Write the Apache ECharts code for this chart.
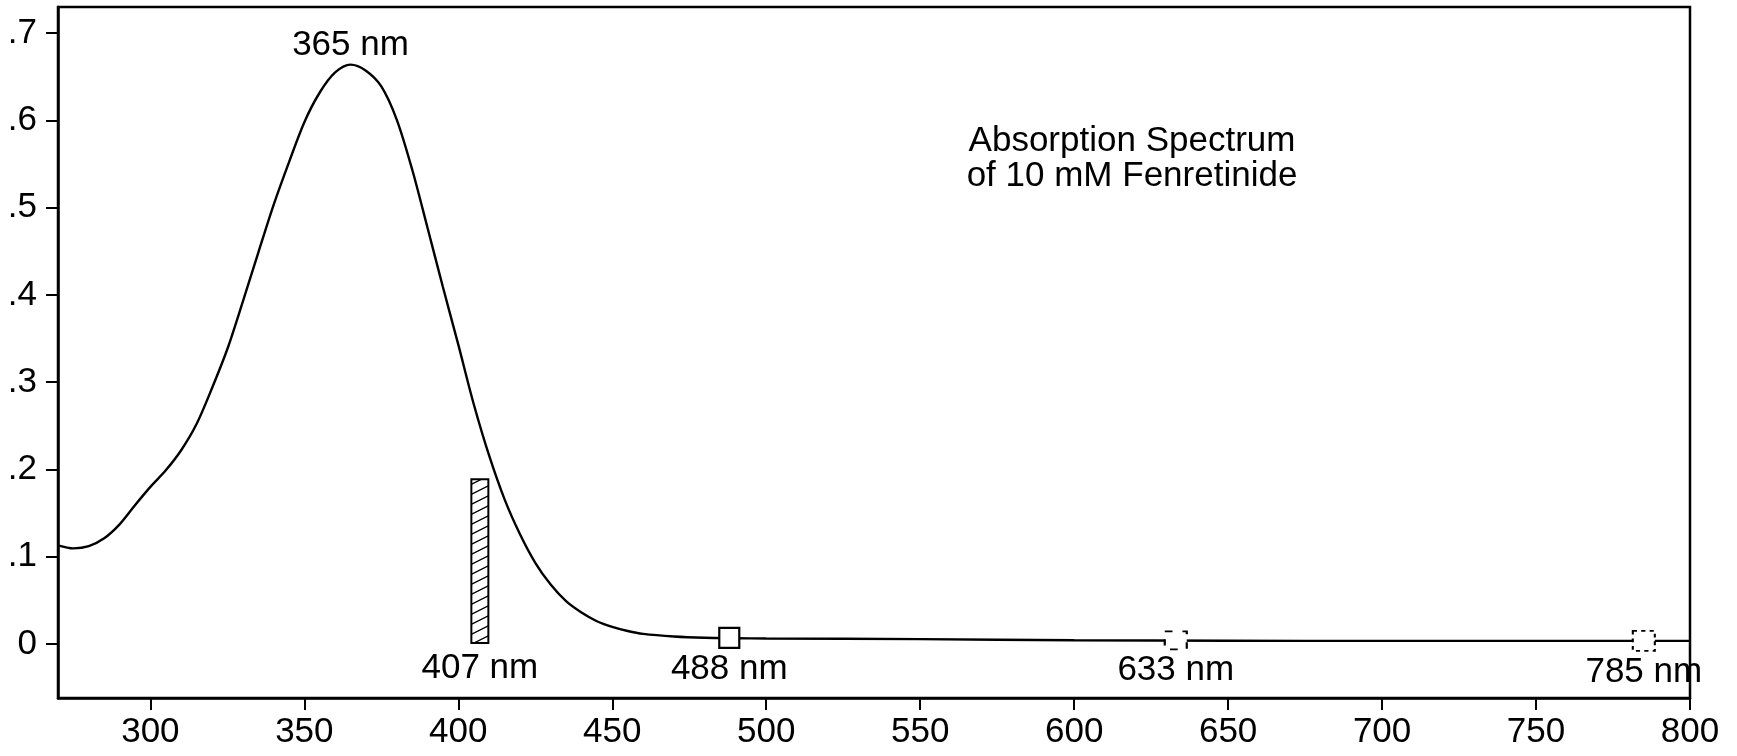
<!DOCTYPE html>
<html>
<head>
<meta charset="utf-8">
<title>Absorption Spectrum of 10 mM Fenretinide</title>
<script src="https://cdn.jsdelivr.net/npm/echarts@6/dist/echarts.min.js"></script>
<style>
  html, body { margin: 0; padding: 0; background: #fff; }
  #chart { width: 1737px; height: 756px; }
</style>
</head>
<body>
<div id="chart"></div>
<script>
// Absorbance spectrum (wavelength in nm, absorbance in AU)
const wavelengths = [270, 275, 280, 285, 290, 295, 300, 305, 310, 315, 320, 325, 330, 335, 340, 345, 350, 355, 360, 365, 370, 375, 380, 385, 390, 395, 400, 405, 410, 415, 420, 425, 430, 435, 440, 445, 450, 455, 460, 470, 480, 490, 500, 550, 600, 650, 700, 750, 800];
const absorbance = [0.113, 0.1095, 0.112, 0.121, 0.137, 0.159, 0.180, 0.199, 0.222, 0.252, 0.293, 0.338, 0.392, 0.448, 0.503, 0.552, 0.598, 0.632, 0.655, 0.664, 0.657, 0.639, 0.601, 0.544, 0.477, 0.409, 0.343, 0.275, 0.216, 0.166, 0.126, 0.093, 0.068, 0.049, 0.036, 0.026, 0.0195, 0.0148, 0.0115, 0.0085, 0.007, 0.0065, 0.0062, 0.0055, 0.0042, 0.0036, 0.0035, 0.0035, 0.0035];

// Absorption maximum
const peakWavelength = 365;
const peakAbsorbance = 0.664;

// Laser excitation lines
const violetLine = 407;        // drawn as hatched bar
const violetBarHeight = 0.19;
const laserLines = [488, 633, 785];
const laserAbsorbance = [0.007, 0.004, 0.0035];

// Axis ticks
const xTicks = [300, 350, 400, 450, 500, 550, 600, 650, 700, 750, 800];
const yTicks = [0, 0.1, 0.2, 0.3, 0.4, 0.5, 0.6, 0.7];

const titleLines = ['Absorption Spectrum', 'of 10 mM Fenretinide'];

const FONT = '"Liberation Sans", Arial, Helvetica, sans-serif';
const FS = 35;

// Diagonal hatch used to fill the 407 nm bar
function hatchPattern() {
  const c = document.createElement('canvas');
  c.width = 20; c.height = 10;
  const g = c.getContext('2d');
  g.fillStyle = '#fff';
  g.fillRect(0, 0, 20, 10);
  g.strokeStyle = '#000';
  g.lineWidth = 1.3;
  g.beginPath();
  g.moveTo(-20, 20); g.lineTo(20, 0);
  g.moveTo(0, 10); g.lineTo(20, 0);
  g.moveTo(0, 20); g.lineTo(40, 0);
  g.moveTo(-20, 10); g.lineTo(20, -10);
  g.stroke();
  return c;
}

const chart = echarts.init(document.getElementById('chart'), null, { renderer: 'canvas' });

const labelStyle = { color: '#000', opacity: 1, fontFamily: FONT, fontSize: FS };

const markerStyles = [
  { color: '#fff', opacity: 1, borderColor: '#000', borderWidth: 2.2, borderType: 'solid' },
  { color: '#fff', opacity: 1, borderColor: '#000', borderWidth: 2, borderType: [7, 9] },
  { color: '#fff', opacity: 1, borderColor: '#000', borderWidth: 2, borderType: [4, 4] }
];
const markerSizes = [[20, 20], [22, 18], [22, 20]];

chart.setOption({
  animation: false,
  backgroundColor: '#fff',
  grid: {
    left: 58, right: 47, top: 7, bottom: 58,
    show: true, borderColor: '#000', borderWidth: 2.5, backgroundColor: 'transparent'
  },
  xAxis: {
    type: 'value',
    min: 270, max: 800,
    axisLine: { show: true, onZero: false, lineStyle: { color: '#000', width: 2.5 } },
    axisTick: { show: true, customValues: xTicks, length: 12, inside: false, lineStyle: { color: '#000', width: 2 } },
    axisLabel: { customValues: xTicks, margin: 17, ...labelStyle },
    splitLine: { show: false }
  },
  yAxis: {
    type: 'value',
    min: -0.062, max: 0.73,
    axisLine: { show: true, onZero: false, lineStyle: { color: '#000', width: 2.5 } },
    axisTick: { show: true, customValues: yTicks, length: 12, lineStyle: { color: '#000', width: 2 } },
    axisLabel: {
      customValues: yTicks, margin: 21, ...labelStyle,
      formatter: v => (Math.abs(v) < 1e-9 ? '0' : v.toFixed(1).replace(/^0/, ''))
    },
    splitLine: { show: false }
  },
  series: [
    {
      type: 'line',
      data: wavelengths.map((w, i) => [w, absorbance[i]]),
      showSymbol: false,
      smooth: 0.3,
      lineStyle: { color: '#000', width: 2.4 },
      z: 2
    },
    {
      type: 'scatter',
      data: [[peakWavelength, peakAbsorbance]],
      symbolSize: 1,
      itemStyle: { color: 'rgba(0,0,0,0)', opacity: 1 },
      label: {
        show: true, position: 'top', distance: 1, ...labelStyle,
        formatter: p => p.value[0] + ' nm'
      },
      z: 3
    },
    {
      type: 'bar',
      data: [[violetLine, violetBarHeight]],
      barWidth: 19,
      itemStyle: { color: { image: hatchPattern(), repeat: 'repeat' }, borderColor: '#000', borderWidth: 2 },
      label: {
        show: true, position: 'bottom', distance: 7, ...labelStyle,
        formatter: p => p.value[0] + ' nm'
      },
      z: 4
    },
    {
      type: 'scatter',
      symbol: 'rect',
      data: laserLines.map((w, i) => ({
        value: [w, laserAbsorbance[i]],
        symbolSize: markerSizes[i],
        itemStyle: markerStyles[i]
      })),
      label: {
        show: true, position: 'bottom', distance: 3, ...labelStyle,
        formatter: p => p.value[0] + ' nm'
      },
      z: 5
    }
  ],
  graphic: [
    {
      type: 'text',
      x: 1132, y: 124,
      style: {
        text: titleLines.join('\n'),
        fontFamily: FONT, fontSize: FS, lineHeight: 35,
        fill: '#000', align: 'center', verticalAlign: 'top'
      }
    }
  ]
});
</script>
</body>
</html>
